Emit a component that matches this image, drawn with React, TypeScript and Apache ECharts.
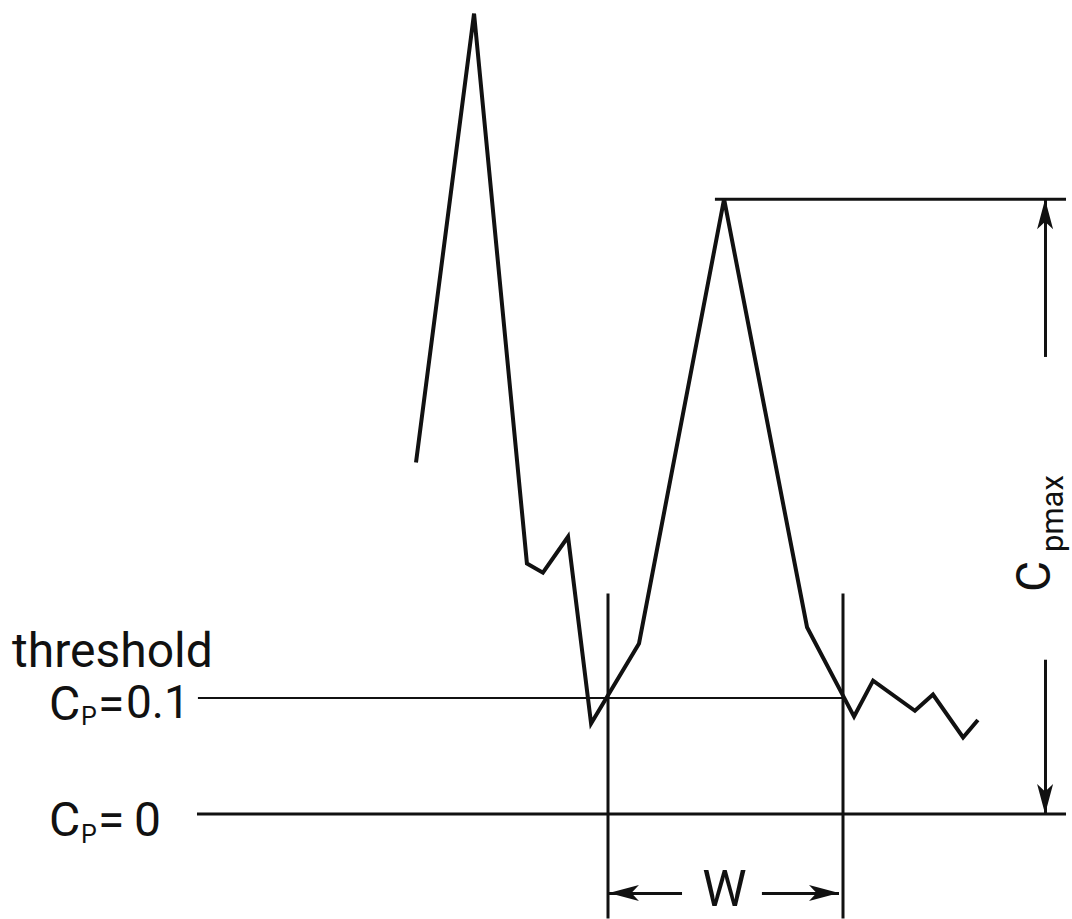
import React, { useEffect, useRef } from "react";
import * as echarts from "echarts";

// Trace of Cp (pressure coefficient) against position
const traceX = [-8.17, -5.7, -3.45, -2.77, -1.7, -0.72, 1.32, 4.94, 8.47, 10.47, 11.28, 13.06, 13.83, 15.11, 15.74];
const traceY = [0.303, 0.69, 0.216, 0.208, 0.239, 0.078, 0.147, 0.53, 0.161, 0.084, 0.115, 0.089, 0.103, 0.066, 0.081];

// Reference levels
const THRESHOLD = 0.1;
const CP_ZERO = 0;
const CP_MAX = 0.53;
// Width W bounds (threshold crossings)
const W_START = 0;
const W_END = 10;

// Extents of guide lines (axis units)
const thresholdLineX = [-17.45, W_END];
const zeroLineX = [-17.49, 19.49];
const maxLineX = [4.55, 19.49];
const boundLineY = [0.19, -0.09];
const cpMaxArrowX = 18.6;
const cpMaxArrowUpper = [0.394, CP_MAX];
const cpMaxArrowLower = [0.133, CP_ZERO];
const wArrowY = -0.068;
const wArrowLeft = [3.15, 0.04];
const wArrowRight = [6.55, 9.83];

export default function App() {
  const ref = useRef<HTMLDivElement>(null);
  useEffect(() => {
    const chart = echarts.init(ref.current!, null, { renderer: "svg" });
    const black = "#111";
    const seg = (pts: number[][], width: number) => ({
      type: "line",
      data: pts,
      symbol: "none",
      silent: true,
      lineStyle: { color: black, width },
      z: 2,
    });
    const font = "Roboto";
    const txt = (text: string, x: number, y: number, size: number, align = "left", lh = size) => ({
      type: "text",
      x,
      y,
      silent: true,
      style: {
        text,
        fill: black,
        fontFamily: font,
        fontSize: size,
        lineHeight: lh,
        align,
        verticalAlign: "middle",
      },
    });
    chart.setOption({
      animation: false,
      backgroundColor: "#fff",
      grid: { left: 20.5, right: 5.75, top: 2, bottom: 0.6, containLabel: false },
      xAxis: { type: "value", min: -25, max: 19.5, show: false },
      yAxis: { type: "value", min: -0.09, max: 0.7, show: false },
      series: [
        {
          type: "line",
          data: traceX.map((x, i) => [x, traceY[i]]),
          symbol: "none",
          silent: true,
          lineStyle: { color: black, width: 4, join: "miter" },
          z: 3,
          markLine: {
            silent: true,
            symbol: ["none", "arrow"],
            symbolSize: [12, 30],
            label: { show: false },
            emphasis: { disabled: true },
            lineStyle: { color: black, width: 3, type: "solid" },
            data: [
              [{ coord: [cpMaxArrowX, cpMaxArrowUpper[0]] }, { coord: [cpMaxArrowX, cpMaxArrowUpper[1]] }],
              [{ coord: [cpMaxArrowX, cpMaxArrowLower[0]] }, { coord: [cpMaxArrowX, cpMaxArrowLower[1]] }],
              [{ coord: [wArrowLeft[0], wArrowY] }, { coord: [wArrowLeft[1], wArrowY] }],
              [{ coord: [wArrowRight[0], wArrowY] }, { coord: [wArrowRight[1], wArrowY] }],
            ],
          },
        },
        seg(thresholdLineX.map((x) => [x, THRESHOLD]), 2),
        seg(zeroLineX.map((x) => [x, CP_ZERO]), 3),
        seg(maxLineX.map((x) => [x, CP_MAX]), 3),
        seg(boundLineY.map((y) => [W_START, y]), 3),
        seg(boundLineY.map((y) => [W_END, y]), 3),
      ],
      graphic: [
        txt("threshold", 12, 650.6, 48),
        txt("C", 49, 703, 48),
        txt("P", 81, 716.5, 25),
        txt("=", 98, 703, 48),
        txt("0.1", 126, 701.6, 46),
        txt("C", 49, 819, 48),
        txt("P", 81, 834, 25),
        txt("=", 98, 819, 48),
        txt("0", 134, 819, 48),
        txt("W", 724.5, 888.5, 50, "center"),
        {
          type: "group",
          x: 1050,
          y: 592,
          rotation: Math.PI / 2,
          children: [
            txt("C", 0, -16.4, 48),
            txt("pmax", 40, 2, 31),
          ],
        },
      ],
    });
    return () => chart.dispose();
  }, []);
  return (
    <div
      ref={ref}
      style={{ position: "fixed", left: 0, top: 0, width: 1072, height: 919, background: "#fff" }}
    />
  );
}
